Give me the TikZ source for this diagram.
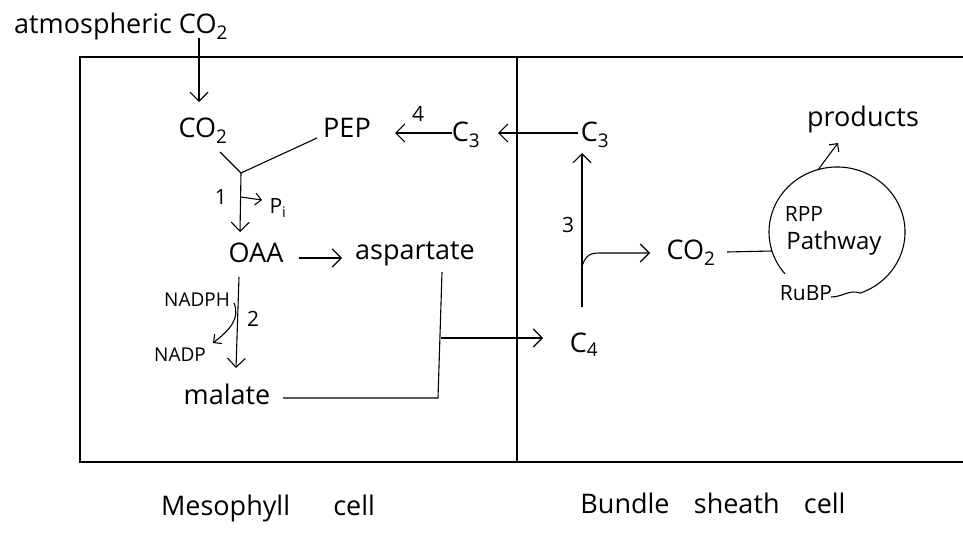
\documentclass[tikz,border=0pt]{standalone}
\usepackage{fontspec}
\setmainfont{Open Sans}
\usetikzlibrary{arrows.meta,calc}
\begin{document}
\begin{tikzpicture}[x=1pt,y=-1pt,line width=1.1pt,
  lbl/.style={inner sep=0pt,anchor=base,font=\fontsize{27}{30}\selectfont},
  sml/.style={inner sep=0pt,anchor=base,font=\fontsize{19}{22}\selectfont},
  num/.style={inner sep=0pt,anchor=base,font=\fontsize{21}{24}\selectfont},
  arr/.style={-{Straight Barb[length=9pt,width=18pt]}},
  arrs/.style={-{Straight Barb[length=6pt,width=12pt]}},
  wall/.style={line width=1.2pt}]
\useasboundingbox (0,0) rectangle (963,537);
\fill[white] (0,0) rectangle (963,537);
% cells
\draw[wall] (963,57) -- (80,57) -- (80,462) -- (963,462);
\draw[wall] (517,57) -- (517,462);
% texts
\node[lbl] (atm) at (121,34) {atmospheric CO\textsubscript{2}};
\node[lbl] (co2m) at (203,138) {CO\textsubscript{2}};
\node[lbl] (pep) at (347,138) {PEP};
\node[lbl] (c3m) at (466,142) {C\textsubscript{3}};
\node[lbl] (c3b) at (595,142) {C\textsubscript{3}};
\node[lbl] (oaa) at (256,262) {OAA};
\node[lbl] (asp) at (415,260) {aspartate};
\node[lbl] (mal) at (227,404) {malate};
\node[lbl] (c4) at (584,352) {C\textsubscript{4}};
\node[lbl] (co2b) at (691,260) {CO\textsubscript{2}};
\node[lbl] (prod) at (863,127) {products};
\node[num] (pi) at (278,214) {P\textsubscript{i}};
\node[num] (n1) at (221,205) {1};
\node[num] (n2) at (253,326) {2};
\node[num] (n3) at (568,233) {3};
\node[num] (n4) at (418,122) {4};
\node[sml] (nadph) at (197,306) {NADPH};
\node[sml] (nadp) at (180,361) {NADP};
\node[num] (rpp) at (804,222) {RPP};
\node[num,font=\fontsize{24}{26}\selectfont] (pw) at (834,250) {Pathway};
\node[num] (rubp) at (806,300) {RuBP};
\node[lbl] (meso) at (268,515) {Mesophyll\hspace{1.6em}cell};
\node[lbl] (bund) at (713,513) {Bundle\hspace{0.9em}sheath\hspace{0.9em}cell};
% helper points
\coordinate (j) at (241,173);
\coordinate (rc) at (837,232);
% mesophyll connectors
\draw[arr] ([shift={(78,4)}]atm.base) -- ([shift={(-4,-36)}]co2m.base);
\draw ([shift={(17,14)}]co2m.base) -- (j);
\draw ([shift={(-30,0)}]pep.base) -- (j);
\draw[arr] (j) -- ([shift={(-16,-30)}]oaa.base);
\draw[arrs] ([shift={(0,24)}]j) -- ([shift={(-16,-14)}]pi.base);
\draw[arr] ([shift={(43,-4)}]oaa.base) -- ([shift={(-73,-2)}]asp.base);
\draw[arr] ([shift={(-17,15)}]oaa.base) -- ([shift={(9,-36)}]mal.base);
\draw[arrs] ([shift={(37,-3)}]nadph.base) .. controls +(6,15) and +(18,-14) .. ([shift={(33,-18)}]nadp.base);
\draw ([shift={(56,-6)}]mal.base) -- ([shift={(23,138)}]asp.base) -- ([shift={(27,12)}]asp.base);
\draw[arr] ([shift={(26,78)}]asp.base) -- ([shift={(-41,-14)}]c4.base);
% top row
\draw[arr] ([shift={(-17,-9)}]c3b.base) -- ([shift={(32,-9)}]c3m.base);
\draw[arr] ([shift={(-14,-9)}]c3m.base) -- ([shift={(48,-5)}]pep.base);
% bundle sheath
\draw[arr] ([shift={(-2,-45)}]c4.base) -- ([shift={(-13,11)}]c3b.base);
\draw[arr] ([shift={(-2,-86)}]c4.base) .. controls +(4,-11) and +(-10,0) .. ([shift={(-91,-7)}]co2b.base) -- ([shift={(-41,-7)}]co2b.base);
\draw ([shift={(36,-8)}]co2b.base) -- ($(rc)+(163:68 and 65)$);
\draw ([shift={(25,-3)}]rubp.base) to[out=0,in=160] ($(rc)+(70:68 and 65)$)
  arc[start angle=70,end angle=-220,x radius=68,y radius=65];
\draw[arrs] ($(rc)+(-106:68 and 65)$) -- ([shift={(-25,16)}]prod.base);
\end{tikzpicture}
\end{document}
